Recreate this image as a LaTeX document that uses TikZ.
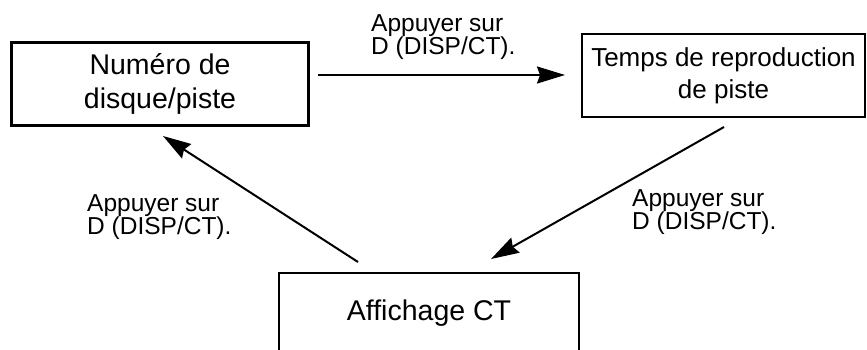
\documentclass[tikz,border=0pt]{standalone}
\usepackage{fontspec}
\setmainfont{Liberation Sans}
\usetikzlibrary{arrows.meta}
\begin{document}
\begin{tikzpicture}[x=1pt,y=-1pt,
  box/.style={draw=black,line width=2.8pt,inner sep=0pt,align=center,
    font=\fontsize{28.5}{34}\selectfont},
  lbl/.style={inner sep=0pt,align=left,anchor=north west,
    font=\fontsize{24.5}{21.5}\selectfont},
  arr/.style={line width=2pt,-{Stealth[length=28pt,width=17pt,inset=3pt]}}]
\clip (0,0) rectangle (867,349);
\fill[white] (0,0) rectangle (867,349);
\node[box,minimum width=297pt,minimum height=83pt] (A) at (160,84) {Numéro de\\disque/piste};
\node[box,minimum width=283pt,minimum height=83pt,font=\fontsize{26}{32}\selectfont] (B) at (723.5,75.5) {Temps de reproduction\\de piste};
\node[box,minimum width=300pt,minimum height=82pt,text depth=8pt] (C) at (429,314) {Affichage CT};
\coordinate (t1) at (318,75);
\coordinate (h1) at (565,75);
\coordinate (t2) at (724,127);
\coordinate (h2) at (491,259);
\coordinate (t3) at (358,262);
\coordinate (h3) at (163,136);
\draw[arr] (t1) -- (h1);
\draw[arr] (t2) -- (h2);
\draw[arr] (t3) -- (h3);
\node[lbl] (L1) at (371,14) {Appuyer sur\\D (DISP/CT).};
\node[lbl] (L2) at (87,194) {Appuyer sur\\D (DISP/CT).};
\node[lbl] (L3) at (632,189) {Appuyer sur\\D (DISP/CT).};
\end{tikzpicture}
\end{document}
